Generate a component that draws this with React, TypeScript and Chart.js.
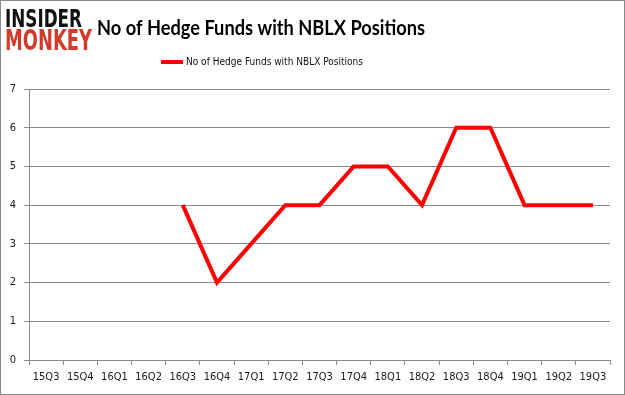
import React, { useEffect, useRef } from "react";
import { Chart, registerables } from "chart.js";

Chart.register(...registerables);

const categories = ["15Q3","15Q4","16Q1","16Q2","16Q3","16Q4","17Q1","17Q2","17Q3","17Q4","18Q1","18Q2","18Q3","18Q4","19Q1","19Q2","19Q3"];
const hedgeFunds: (number | null)[] = [null, null, null, null, 4, 2, 3, 4, 4, 5, 5, 4, 6, 6, 4, 4, 4];
const seriesName = "No of Hedge Funds with NBLX Positions";
const titleText = "No of Hedge Funds with NBLX Positions";
const yTicks = [0, 1, 2, 3, 4, 5, 6, 7];

const tickFont = "'DejaVu Sans Condensed', 'Liberation Sans Narrow', 'Liberation Sans'";

function fitText(ctx: CanvasRenderingContext2D, text: string, x: number, y: number, w: number) {
  const m = ctx.measureText(text).width;
  ctx.save();
  ctx.translate(x, y);
  ctx.scale(w / m, 1);
  ctx.fillText(text, 0, 0);
  ctx.restore();
}

const decor = {
  id: "decor",
  afterDraw(chart: any) {
    const ctx = chart.ctx as CanvasRenderingContext2D;
    ctx.save();
    ctx.strokeStyle = "#8a8a8a";
    ctx.lineWidth = 1;
    ctx.strokeRect(0.5, 0.5, chart.width - 1, chart.height - 1);
    // logo
    ctx.textBaseline = "alphabetic";
    ctx.textAlign = "left";
    ctx.fillStyle = "#111111";
    ctx.font = "bold 24px 'DejaVu Sans'";
    fitText(ctx, "INSIDER", 5, 27, 77);
    ctx.fillStyle = "#d23a2a";
    ctx.font = "bold 28px 'DejaVu Sans'";
    fitText(ctx, "MONKEY", 5, 50, 87);
    // title
    ctx.fillStyle = "#000000";
    ctx.font = "bold 21px Lato";
    fitText(ctx, titleText, 97, 35, 328);
    // legend
    ctx.strokeStyle = "#ff0000";
    ctx.lineWidth = 4;
    ctx.beginPath();
    ctx.moveTo(161, 62);
    ctx.lineTo(183, 62);
    ctx.stroke();
    ctx.fillStyle = "#111111";
    ctx.font = "11px " + tickFont;
    ctx.textBaseline = "middle";
    fitText(ctx, seriesName, 186, 62, 177);
    ctx.restore();
  },
};

export default function App() {
  const ref = useRef<HTMLCanvasElement>(null);
  useEffect(() => {
    document.body.style.margin = "0";
    const chart = new Chart(ref.current!, {
      type: "line",
      data: {
        labels: categories,
        datasets: [
          {
            label: seriesName,
            data: hedgeFunds,
            borderColor: "#ff0000",
            backgroundColor: "#ff0000",
            borderWidth: 4,
            pointRadius: 0,
            tension: 0,
          },
        ],
      },
      options: {
        responsive: false,
        animation: false,
        layout: { padding: { top: 89, right: 15, left: 0, bottom: 0 } },
        plugins: { legend: { display: false }, title: { display: false }, tooltip: { enabled: false } },
        scales: {
          x: {
            offset: true,
            grid: { offset: true, drawOnChartArea: false, drawTicks: true, tickLength: 5, color: "#8a8a8a" },
            border: { color: "#8a8a8a" },
            ticks: { color: "#1a1a1a", font: { family: tickFont, size: 11 }, maxRotation: 0, autoSkip: false, padding: 6 },
            afterFit: (s: any) => { s.height = 35; },
          },
          y: {
            min: 0,
            max: 7,
            afterBuildTicks: (s: any) => { s.ticks = yTicks.map((v) => ({ value: v })); },
            grid: { color: "#8a8a8a", tickLength: 5 },
            border: { color: "#8a8a8a" },
            ticks: { color: "#1a1a1a", font: { family: tickFont, size: 11 }, padding: 8 },
            afterFit: (s: any) => { s.width = 29; },
          },
        },
      },
      plugins: [decor],
    });
    return () => chart.destroy();
  }, []);
  return <canvas ref={ref} width={625} height={395} style={{ display: "block" }} />;
}
